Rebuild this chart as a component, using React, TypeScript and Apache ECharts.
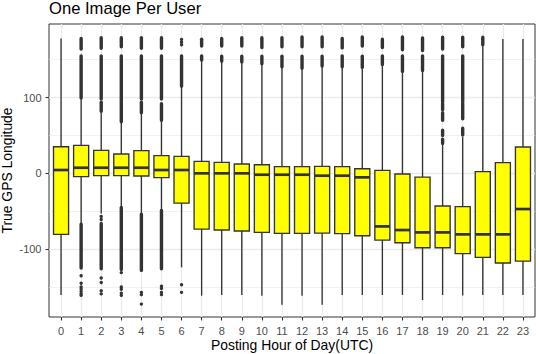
import React, { useEffect, useRef } from "react";
import * as echarts from "echarts";

// ---- data ----
const hours = [0, 1, 2, 3, 4, 5, 6, 7, 8, 9, 10, 11, 12, 13, 14, 15, 16, 17, 18, 19, 20, 21, 22, 23];
const whiskerLow = [-160.6, -66.5, -53, -44, -53.7, -48.4, -124, -161.4, -160.5, -160.5, -161.4, -173.3, -161.4, -173.3, -160.5, -160.5, -160.5, -160.5, -167.2, -160.5, -161, -160.5, -160.5, -160.5];
const q1 = [-80.5, -4.4, -3.1, -3.1, -3.5, -5.7, -39.2, -73.5, -74.8, -76.1, -77.9, -79.2, -79.2, -78.8, -79.6, -82.3, -88, -91.5, -98.1, -98.1, -106, -110.9, -118.3, -115.7];
const median = [4.4, 7.4, 7.4, 7.4, 7.4, 4.4, 4.4, 0, 0, 0, -1.8, -1.8, -1.8, -3.1, -3.1, -5.3, -70, -74.8, -77.9, -77.9, -80.5, -80.5, -80.5, -47.1];
const q3 = [35.1, 36.9, 30.3, 25.5, 29.9, 23.3, 22.4, 15.8, 14.5, 12.3, 11.4, 8.8, 8.8, 9.2, 8.8, 6.1, 3.9, -0.9, -4.9, -43.1, -44, 2.2, 14.1, 34.7];
const whiskerHigh = [178, 99, 80.4, 67, 79, 69.5, 114, 149, 147, 146, 144, 140, 138, 141, 140, 139.5, 143, 134, 135, 38.7, 48, 169, 177.2, 177.2];

// dense runs of outliers: [hour, from, to]
const outlierRuns = [
  [1, 99.5, 155], [1, 164, 178], [1, -125, -67],
  [2, 82, 94], [2, 98, 155], [2, 165, 179], [2, -126, -66],
  [3, 68, 155], [3, 167, 179], [3, -127, -45],
  [4, 80, 94], [4, 98, 155], [4, 165, 179], [4, -128, -54],
  [5, 70, 92], [5, 98, 155], [5, 165, 179], [5, -126, -49],
  [6, 115, 155],
  [7, 149.5, 155], [7, 168, 177],
  [8, 148, 154.5], [8, 168, 178],
  [9, 147, 154.5], [9, 168, 179],
  [10, 144.5, 154.5], [10, 166, 179],
  [11, 140.5, 154.5], [11, 167, 179],
  [12, 138.5, 154.5], [12, 167, 180],
  [13, 141.5, 154.5], [13, 167, 180],
  [14, 140.5, 155], [14, 165.5, 178],
  [15, 140, 154.5], [15, 168, 180],
  [16, 143.5, 155], [16, 166, 177],
  [17, 134.5, 155], [17, 163, 180],
  [18, 135.5, 155], [18, 162, 178.5],
  [19, 39.5, 45], [19, 50, 57], [19, 70, 80], [19, 84, 92], [19, 94, 155], [19, 164, 179.5],
  [20, 50.5, 59.5], [20, 72, 92], [20, 94, 155], [20, 167, 179.5],
  [21, 169.5, 179.5],
];
// isolated outliers: [hour, value]
const outlierPoints = [
  [1, -135], [1, -145], [1, -150], [1, -153], [1, -156], [1, -159], [1, -161],
  [2, -57], [2, -61], [2, -138], [2, -144], [2, -155], [2, -159],
  [3, -131], [3, -150], [3, -153], [3, -158], [3, -161],
  [4, -157], [4, -160], [4, -172.5],
  [5, -149], [5, -152], [5, -157], [5, -160],
  [6, 169.5], [6, 173], [6, 176.5], [6, -147], [6, -157],
];

const yMajor = [-100, 0, 100];
const yMinor = [-150, -50, 50, 150];

const FONT = "'Liberation Sans', Arial, sans-serif";
const INK = "#333333";

export default function App() {
  const ref = useRef<HTMLDivElement>(null);

  useEffect(() => {
    if (!ref.current) return;
    const chart = echarts.init(ref.current, undefined, { renderer: "svg" });

    const boxRows = hours.map((h, i) => [h, whiskerLow[i], q1[i], median[i], q3[i], whiskerHigh[i]]);

    const renderBox = (_params: any, api: any) => {
      const x = api.value(0);
      const lo = api.coord([x, api.value(1)]);
      const b1 = api.coord([x, api.value(2)]);
      const md = api.coord([x, api.value(3)]);
      const b3 = api.coord([x, api.value(4)]);
      const hi = api.coord([x, api.value(5)]);
      const w = api.size([0.75, 0])[0];
      const cx = lo[0];
      return {
        type: "group",
        children: [
          { type: "line", shape: { x1: cx, y1: hi[1], x2: cx, y2: b3[1] }, style: { stroke: INK, lineWidth: 1.35 } },
          { type: "line", shape: { x1: cx, y1: b1[1], x2: cx, y2: lo[1] }, style: { stroke: INK, lineWidth: 1.35 } },
          {
            type: "rect",
            shape: { x: cx - w / 2, y: b3[1], width: w, height: b1[1] - b3[1] },
            style: { fill: "#ffff00", stroke: INK, lineWidth: 1.35 },
          },
          { type: "line", shape: { x1: cx - w / 2, y1: md[1], x2: cx + w / 2, y2: md[1] }, style: { stroke: INK, lineWidth: 2.7 } },
        ],
      };
    };

    const renderRun = (_params: any, api: any) => {
      const x = api.value(0);
      const a = api.coord([x, api.value(1)]);
      const b = api.coord([x, api.value(2)]);
      const w = 3.4;
      const top = Math.min(a[1], b[1]) - w / 2;
      const h = Math.abs(a[1] - b[1]) + w;
      return {
        type: "rect",
        shape: { x: a[0] - w / 2, y: top, width: w, height: h, r: w / 2 },
        style: { fill: INK },
      };
    };

    const major = { color: "#ebebeb", width: 1.35, type: "solid" };
    const minor = { color: "#ebebeb", width: 0.7, type: "solid" };

    chart.setOption({
      animation: false,
      backgroundColor: "#ffffff",
      textStyle: { fontFamily: FONT },
      title: {
        text: "One Image Per User",
        left: 49,
        top: 0,
        padding: 0,
        textStyle: { fontSize: 16.6, fontWeight: "normal", color: "#000000", fontFamily: FONT },
      },
      graphic: [
        {
          type: "text",
          x: 7,
          y: 170.5,
          rotation: Math.PI / 2,
          silent: true,
          style: {
            text: "True GPS Longitude",
            fontSize: 13.9,
            fontFamily: FONT,
            fill: "#000000",
            align: "center",
            verticalAlign: "middle",
          },
        },
        {
          type: "text",
          x: 292,
          y: 344.8,
          silent: true,
          style: {
            text: "Posting Hour of Day(UTC)",
            fontSize: 13.9,
            fontFamily: FONT,
            fill: "#000000",
            align: "center",
            verticalAlign: "middle",
          },
        },
      ],
      grid: {
        left: 49,
        right: 1,
        top: 24,
        bottom: 37,
        show: true,
        borderColor: INK,
        borderWidth: 1,
        backgroundColor: "transparent",
        outerBoundsMode: "none",
      },
      xAxis: {
        type: "value",
        min: -0.6,
        max: 23.6,
        axisLine: { show: false, onZero: false },
        axisTick: { show: true, length: 3.5, lineStyle: { color: INK, width: 1.1 }, customValues: hours },
        axisLabel: { customValues: hours, color: "#4d4d4d", fontSize: 11, margin: 8, fontFamily: FONT },
        splitLine: { show: false },
      },
      yAxis: {
        type: "value",
        min: -189.5,
        max: 197,
        axisLine: { show: false, onZero: false },
        axisTick: { show: true, length: 3.5, lineStyle: { color: INK, width: 1.1 }, customValues: yMajor },
        axisLabel: { customValues: yMajor, color: "#4d4d4d", fontSize: 11, margin: 7.5, fontFamily: FONT },
        splitLine: { show: false },
      },
      series: [
        {
          type: "line",
          data: [],
          z: 1,
          silent: true,
          markLine: {
            z: 1,
            silent: true,
            symbol: ["none", "none"],
            label: { show: false },
            emphasis: { disabled: true },
            data: [
              ...hours.map((h) => ({ xAxis: h, lineStyle: major })),
              ...yMajor.map((v) => ({ yAxis: v, lineStyle: major })),
              ...yMinor.map((v) => ({ yAxis: v, lineStyle: minor })),
            ],
          },
        },
        {
          type: "custom",
          z: 3,
          silent: true,
          renderItem: renderRun,
          encode: { x: 0, y: [1, 2] },
          data: outlierRuns,
        },
        {
          type: "scatter",
          z: 3,
          silent: true,
          symbol: "circle",
          symbolSize: 3.4,
          itemStyle: { color: INK, opacity: 1 },
          data: outlierPoints,
        },
        {
          type: "custom",
          z: 4,
          silent: true,
          renderItem: renderBox,
          encode: { x: 0, y: [1, 2, 3, 4, 5] },
          data: boxRows,
        },
      ],
    });

    return () => chart.dispose();
  }, []);

  return (
    <div
      ref={ref}
      style={{ position: "fixed", left: 0, top: 0, width: 536, height: 354, background: "#fff" }}
    />
  );
}
